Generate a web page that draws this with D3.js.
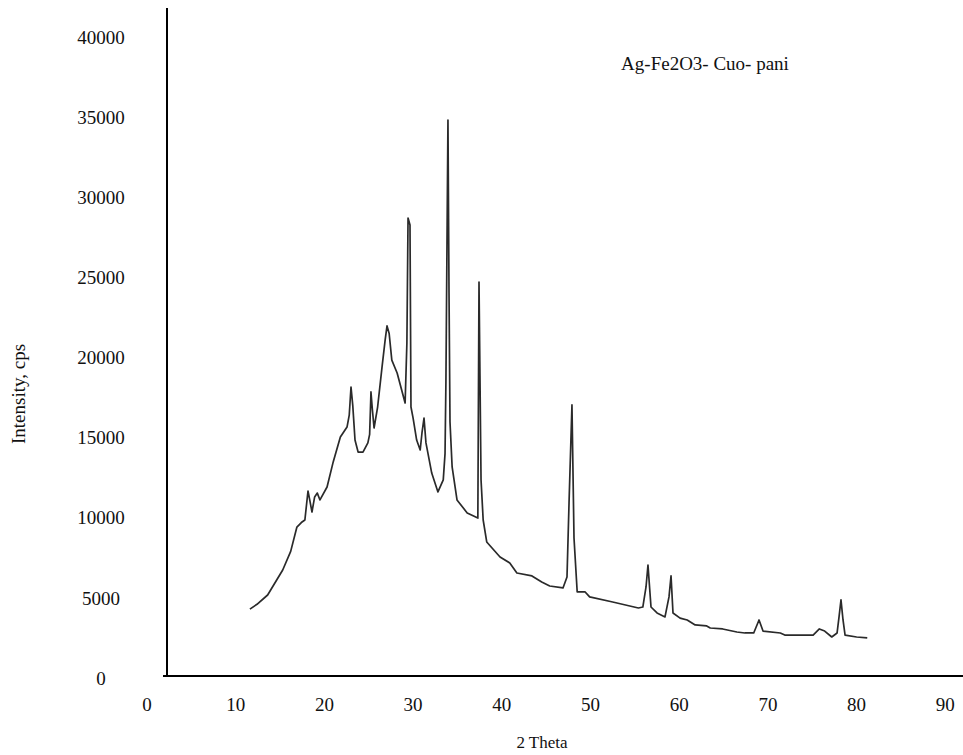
<!DOCTYPE html>
<html>
<head>
<meta charset="utf-8">
<script src="https://cdn.jsdelivr.net/npm/d3@7"></script>
<style>
  body { margin: 0; background: #fff; }
  svg text { font-family: "Liberation Serif", "Times New Roman", serif; fill: #111; }
</style>
</head>
<body>
<svg id="chart" width="963" height="755"></svg>
<script>
// XRD pattern, values
var twoTheta = [11.6, 12.4, 13.6, 15.3, 16.2, 16.9, 17.4, 17.8, 18.15, 18.35, 18.6, 18.9, 19.2, 19.5, 20.3, 21.0, 21.8, 22.55, 22.8, 23.0, 23.2, 23.45, 23.8, 24.35, 24.9, 25.1, 25.25, 25.4, 25.6, 26.0, 26.5, 26.85, 27.06, 27.3, 27.6, 28.2, 29.1, 29.3, 29.43, 29.65, 29.76, 30.0, 30.4, 30.8, 31.0, 31.23, 31.45, 32.1, 32.8, 33.4, 33.6, 33.7, 33.93, 34.05, 34.16, 34.4, 34.95, 36.1, 37.3, 37.43, 37.66, 37.9, 38.3, 39.8, 40.9, 41.7, 43.4, 44.5, 45.4, 46.9, 47.35, 47.58, 47.91, 48.14, 48.5, 49.4, 49.9, 52.5, 55.4, 55.9, 56.26, 56.48, 56.82, 57.5, 58.4, 58.85, 59.08, 59.3, 60.1, 60.9, 61.8, 63.1, 63.5, 64.9, 66.5, 67.4, 68.4, 69.0, 69.45, 71.4, 71.9, 75.1, 75.8, 76.4, 77.2, 77.8, 78.02, 78.24, 78.47, 78.7, 80.0, 81.2];
var intensity = [4300, 4600, 5180, 6740, 7900, 9420, 9700, 9860, 11670, 11100, 10360, 11300, 11540, 11110, 11920, 13500, 15040, 15660, 16400, 18160, 17000, 14850, 14100, 14100, 14670, 15200, 17850, 16800, 15600, 16910, 19410, 21100, 21970, 21500, 19840, 19030, 17160, 20900, 28700, 28270, 16910, 16220, 14850, 14230, 15290, 16220, 14670, 12790, 11610, 12360, 14000, 18470, 34820, 24000, 15970, 13170, 11110, 10300, 9980, 24710, 12360, 9860, 8490, 7550, 7180, 6550, 6370, 5990, 5740, 5620, 6300, 10920, 17040, 8740, 5370, 5370, 5060, 4740, 4370, 4430, 5680, 7050, 4430, 4060, 3810, 5060, 6370, 4060, 3740, 3620, 3310, 3250, 3120, 3060, 2870, 2810, 2810, 3620, 2930, 2810, 2680, 2680, 3060, 2930, 2560, 2810, 3810, 4870, 3620, 2680, 2560, 2500];

var xTicks = [0, 10, 20, 30, 40, 50, 60, 70, 80, 90];
var yTicks = [0, 5000, 10000, 15000, 20000, 25000, 30000, 35000, 40000];

var seriesLabel = 'Ag-Fe2O3- Cuo- pani';
var xTitle = '2 Theta';
var yTitle = 'Intensity, cps';

var svg = d3.select('#chart');

// scales
var x = d3.scaleLinear().domain([0, 90]).range([147, 945.3]);
var y = d3.scaleLinear().domain([0, 40000]).range([678, 37]);

// axis lines
var axisX = 167, axisY = 676;
svg.append('line')
	.attr('x1', axisX).attr('x2', axisX)
	.attr('y1', 8).attr('y2', axisY)
	.attr('stroke', '#000').attr('stroke-width', 2);
svg.append('line')
	.attr('x1', 163).attr('x2', 963)
	.attr('y1', axisY).attr('y2', axisY)
	.attr('stroke', '#000').attr('stroke-width', 2);

// tick labels
svg.append('g').selectAll('text')
	.data(yTicks).enter()
	.append('text')
	.attr('x', 101)
	.attr('y', function (d) { return y(d); })
	.attr('dy', '0.35em')
	.attr('text-anchor', 'middle')
	.style('font-size', '19px')
	.text(function (d) { return d; });

svg.append('g').selectAll('text')
	.data(xTicks).enter()
	.append('text')
	.attr('x', function (d) { return x(d); })
	.attr('y', 704)
	.attr('dy', '0.35em')
	.attr('text-anchor', 'middle')
	.style('font-size', '19px')
	.text(function (d) { return d; });

// axis titles
svg.append('text')
	.attr('x', 542).attr('y', 742)
	.attr('dy', '0.35em')
	.attr('text-anchor', 'middle')
	.style('font-size', '17px')
	.text(xTitle);

svg.append('text')
	.attr('transform', 'translate(18,394) rotate(-90)')
	.attr('dy', '0.35em')
	.attr('text-anchor', 'middle')
	.style('font-size', '19px')
	.text(yTitle);

// series label
svg.append('text')
	.attr('x', 705).attr('y', 63)
	.attr('dy', '0.35em')
	.attr('text-anchor', 'middle')
	.style('font-size', '19px')
	.text(seriesLabel);

// pattern line
var line = d3.line()
	.x(function (d, i) { return x(twoTheta[i]); })
	.y(function (d) { return y(d); });

svg.append('path')
	.datum(intensity)
	.attr('d', line)
	.attr('fill', 'none')
	.attr('stroke', '#2a2a2a')
	.attr('stroke-width', 1.7)
	.attr('stroke-linejoin', 'round');
</script>
</body>
</html>
